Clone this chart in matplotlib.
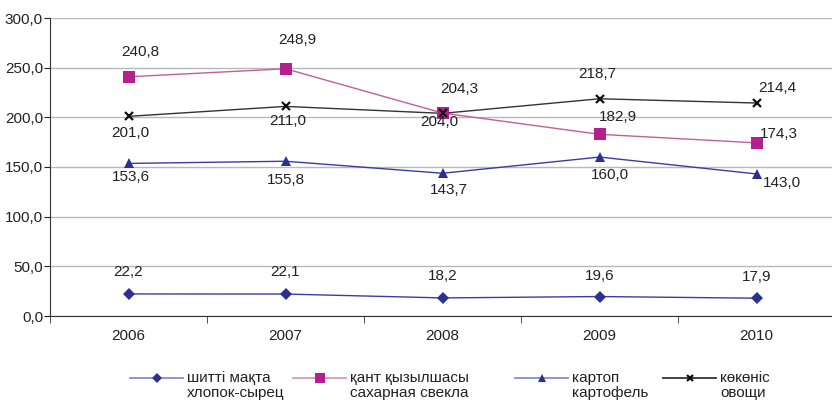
import numpy as np
import matplotlib.pyplot as plt
from matplotlib.lines import Line2D

plt.rcParams['font.family'] = ['Liberation Sans', 'DejaVu Sans']

years = ['2006', '2007', '2008', '2009', '2010']
cotton = [22.2, 22.1, 18.2, 19.6, 17.9]
sugar_beet = [240.8, 248.9, 204.3, 182.9, 174.3]
potato = [153.6, 155.8, 143.7, 160.0, 143.0]
vegetables = [201.0, 211.0, 204.0, 218.7, 214.4]

names = ['шитті мақта\nхлопок-сырец', 'қант қызылшасы\nсахарная свекла',
         'картоп\nкартофель', 'көкөніс\nовощи']

# label offsets in pixels (dx, dy) relative to each marker
off_cotton = [(0, 22), (0, 22), (0, 22), (0, 21), (0, 21)]
off_sugar = [(12, 25), (12, 29), (17, 24), (18, 17), (22, 9)]
off_veg = [(2, -17), (2, -15), (-3, -9), (-2, 25), (21, 15)]
off_potato = [(2, -14), (0, -19), (6, -17), (10, -18), (25, -9)]

# legend handle start x (pixels)
leg_x = [130, 293, 515, 663]

W, H = 832, 400
fig = plt.figure(figsize=(W / 100, H / 100), dpi=100)
ax = fig.add_axes([50 / W, 84 / H, 782 / W, 298 / H])

x = np.arange(len(years))
series = [
    (cotton, 'D', '#2b3192', '#3a3ca6', 6, off_cotton, '#8a8cc8'),
    (sugar_beet, 's', '#b5208f', '#c0609a', 8, off_sugar, '#d79ac0'),
    (potato, '^', '#2b3192', '#3a3ca6', 7, off_potato, '#8a8cc8'),
    (vegetables, 'x', '#111111', '#333333', 6, off_veg, '#333333'),
]

for i, (vals, mk, mc, lc, ms, offs, legc) in enumerate(series):
    mew = 1.6 if mk == 'x' else 0
    ax.plot(x, vals, color=lc, lw=1, zorder=3)
    ax.plot(x, vals, ls='none', marker=mk, color=mc, ms=ms, mew=mew, zorder=4)
    for xi, v, (dx, dy) in zip(x, vals, offs):
        ax.annotate(f'{v:.1f}'.replace('.', ','), (xi, v), xytext=(dx * 0.72, dy * 0.72),
                    textcoords='offset points', ha='center', va='center', fontsize=11,
                    color='#222222', zorder=5)
    # manual legend entry
    x0 = leg_x[i] / W
    x1 = (leg_x[i] + 53) / W
    y = 1 - 378 / H
    fig.add_artist(Line2D([x0, x1], [y, y], color=legc, lw=1.3, transform=fig.transFigure))
    fig.add_artist(Line2D([(x0 + x1) / 2], [y], ls='none', marker=mk, color=mc, ms=ms - 1,
                          mew=mew, transform=fig.transFigure))
    fig.text((leg_x[i] + 57) / W, 1 - 371 / H, names[i], fontsize=11, color='#222222',
             ha='left', va='top', linespacing=1.05)

ax.set_ylim(0, 300)
ax.set_xlim(-0.5, 4.48)
ax.set_yticks(np.arange(0, 301, 50))
ax.set_yticklabels([f'{v:.1f}'.replace('.', ',') for v in np.arange(0, 301, 50)])
ax.set_xticks(x)
ax.set_xticklabels(years)
ax.set_xticks(np.arange(-0.5, 4.5, 1), minor=True)
ax.tick_params(axis='x', which='major', length=0, pad=9, labelsize=11, colors='#222222')
ax.tick_params(axis='x', which='minor', length=5, color='#333333')
ax.tick_params(axis='y', length=4, pad=1, labelsize=11, colors='#222222')
ax.grid(axis='y', color='#b8b8b8', lw=1, zorder=0)
for s in ['top', 'right']:
    ax.spines[s].set_visible(False)
ax.spines['left'].set_color('#333333')
ax.spines['bottom'].set_color('#333333')

fig.savefig('out.png', dpi=100)
